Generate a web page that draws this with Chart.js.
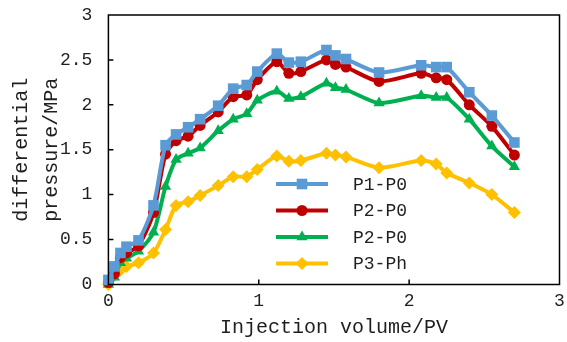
<!DOCTYPE html>
<html>
<head>
<meta charset="utf-8">
<script src="https://cdn.jsdelivr.net/npm/chart.js@4"></script>
<style>
  html, body { margin: 0; padding: 0; background: #fff; }
  #wrap { width: 567px; height: 342px; }
</style>
</head>
<body>
<div id="wrap"><canvas id="pressureChart"></canvas></div>
<script>
// injection volume (PV), shared by all four curves
const pv = [0, 0.04, 0.08, 0.12, 0.2, 0.3, 0.38, 0.45, 0.53, 0.61, 0.73, 0.83, 0.92, 0.99, 1.12, 1.2, 1.28, 1.45, 1.51, 1.58, 1.8, 2.08, 2.18, 2.25, 2.4, 2.55, 2.7];

const p1p0 = [0.05, 0.2, 0.35, 0.42, 0.49, 0.88, 1.55, 1.67, 1.75, 1.84, 1.99, 2.18, 2.22, 2.37, 2.57, 2.47, 2.48, 2.61, 2.55, 2.51, 2.36, 2.44, 2.42, 2.42, 2.14, 1.88, 1.58];
const p2p0 = [0.02, 0.12, 0.3, 0.35, 0.43, 0.8, 1.45, 1.6, 1.65, 1.77, 1.92, 2.09, 2.11, 2.28, 2.48, 2.35, 2.37, 2.5, 2.45, 2.42, 2.26, 2.35, 2.3, 2.28, 2.0, 1.76, 1.44];
const p2p0b = [0, 0.08, 0.24, 0.29, 0.37, 0.58, 1.09, 1.39, 1.46, 1.52, 1.71, 1.84, 1.9, 2.05, 2.15, 2.07, 2.09, 2.24, 2.19, 2.17, 2.02, 2.1, 2.08, 2.08, 1.84, 1.54, 1.31];
const p3ph = [0, 0.1, 0.16, 0.2, 0.24, 0.35, 0.61, 0.88, 0.92, 0.99, 1.1, 1.2, 1.2, 1.28, 1.43, 1.37, 1.38, 1.46, 1.44, 1.42, 1.3, 1.38, 1.34, 1.24, 1.13, 1.0, 0.8];

const seriesNames = ['P1-P0', 'P2-P0', 'P2-P0', 'P3-Ph'];
const xTitle = 'Injection volume/PV';
const yTitle = ['differential', 'pressure/MPa'];

const monoFont = '"Liberation Mono", monospace';
const inkColor = '#1f1f1f';

function pts(ys) {
    return ys.map((y, i) => ({ x: pv[i], y: y }));
}

function makeSet(label, ys, color, style, radius) {
    return {
        label: label,
        data: pts(ys),
        borderColor: color,
        backgroundColor: color,
        borderWidth: 4,
        pointStyle: style,
        pointRadius: radius,
        pointHoverRadius: radius,
        pointBorderWidth: 0,
        tension: 0.25,
        clip: false
    };
}

const data = {
    datasets: [
        makeSet(seriesNames[0], p1p0, '#5b9bd5', 'rect', 7.5),
        makeSet(seriesNames[1], p2p0, '#c00000', 'circle', 5.5),
        makeSet(seriesNames[2], p2p0b, '#00b050', 'triangle', 6.5),
        makeSet(seriesNames[3], p3ph, '#ffc000', 'rectRot', 6.5)
    ]
};

// frame, inward ticks, y title and the inset legend
const decorations = {
    id: 'decorations',
    afterDraw(chart) {
        const ctx = chart.ctx;
        const a = chart.chartArea;
        const xs = chart.scales.x, ys = chart.scales.y;
        ctx.save();
        ctx.strokeStyle = '#000';
        ctx.lineWidth = 1.5;
        ctx.beginPath();
        ctx.rect(a.left, a.top, a.right - a.left, a.bottom - a.top);
        xs.ticks.forEach(t => {
            const px = xs.getPixelForValue(t.value);
            ctx.moveTo(px, a.bottom);
            ctx.lineTo(px, a.bottom - 5);
        });
        ys.ticks.forEach(t => {
            const py = ys.getPixelForValue(t.value);
            ctx.moveTo(a.left, py);
            ctx.lineTo(a.left + 5, py);
        });
        ctx.stroke();

        // y title, two rotated lines
        ctx.fillStyle = inkColor;
        ctx.font = '20px ' + monoFont;
        ctx.textAlign = 'center';
        ctx.textBaseline = 'middle';
        const cy = (a.top + a.bottom) / 2;
        ctx.translate(22, cy);
        ctx.rotate(-Math.PI / 2);
        ctx.fillText(yTitle[0], 0, 0);
        ctx.fillText(yTitle[1], 0, 30);
        ctx.restore();

        // legend inside the plot
        ctx.save();
        const lx = 276, ly = 184, gap = 26.5, len = 52;
        chart.data.datasets.forEach((ds, i) => {
            const y = ly + i * gap;
            ctx.strokeStyle = ds.borderColor;
            ctx.lineWidth = 4;
            ctx.beginPath();
            ctx.moveTo(lx, y);
            ctx.lineTo(lx + len, y);
            ctx.stroke();
            ctx.fillStyle = ds.backgroundColor;
            Chart.helpers.drawPoint(ctx, {
                pointStyle: ds.pointStyle,
                radius: ds.pointRadius,
                rotation: 0,
                borderWidth: 0
            }, lx + len / 2, y);
            ctx.fillStyle = inkColor;
            ctx.font = '18px ' + monoFont;
            ctx.textAlign = 'left';
            ctx.textBaseline = 'middle';
            ctx.fillText(ds.label, 353, y + 1);
        });
        ctx.restore();
    }
};

// no label overhang padding, so the frame can reach the canvas edges
function noOverhang(scale) {
    scale.paddingLeft = 0;
    scale.paddingRight = 0;
    scale.paddingTop = 0;
    scale.paddingBottom = 0;
}

const config = {
    type: 'line',
    data: data,
    options: {
        responsive: true,
        maintainAspectRatio: false,
        animation: false,
        layout: {
            padding: { left: 44, right: 4, top: 15, bottom: 2 }
        },
        plugins: {
            legend: { display: false },
            tooltip: { enabled: false }
        },
        scales: {
            x: {
                type: 'linear',
                min: 0,
                max: 3,
                afterFit: noOverhang,
                grid: { display: false, drawTicks: false },
                border: { display: false },
                ticks: {
                    stepSize: 1,
                    padding: 6,
                    color: inkColor,
                    font: { family: monoFont, size: 18 },
                    callback: v => String(v)
                },
                title: {
                    display: true,
                    text: xTitle,
                    color: inkColor,
                    font: { family: monoFont, size: 20 },
                    padding: { top: -2, bottom: 0 }
                }
            },
            y: {
                min: 0,
                max: 3,
                afterFit: noOverhang,
                grid: { display: false, drawTicks: false },
                border: { display: false },
                ticks: {
                    stepSize: 0.5,
                    padding: 16,
                    color: inkColor,
                    font: { family: monoFont, size: 18 },
                    callback: v => String(v)
                }
            }
        }
    },
    plugins: [decorations]
};

const ctxMain = document.getElementById('pressureChart').getContext('2d');
var pressureChart = new Chart(ctxMain, config);
</script>
</body>
</html>
